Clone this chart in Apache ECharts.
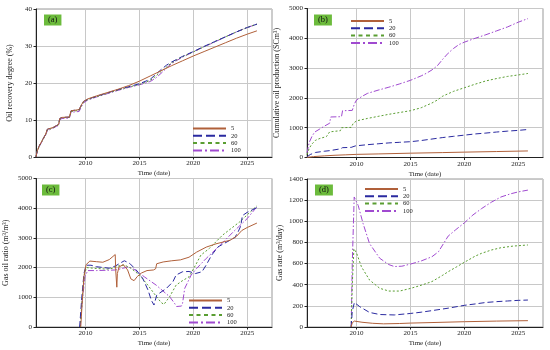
<!DOCTYPE html>
<html><head><meta charset="utf-8">
<script src="https://cdn.jsdelivr.net/npm/echarts@6/dist/echarts.min.js"></script>
<style>html,body{margin:0;padding:0;background:#fff}#c{width:550px;height:350px}</style>
</head><body><div id="c"></div>
<script>
const seriesNames = ['5', '20', '60', '100'];
const xTickYears = [2010, 2015, 2020, 2025];
const panelLabels = ['(a)', '(b)', '(c)', '(d)'];
const yNames = ['Oil recovery degree (%)', 'Cumulative oil production (SCm\u00B3)', 'Gas oil ratio (m\u00B3/m\u00B3)', 'Gas rate (m\u00B3/day)'];
const xName = 'Time (date)';

// (a) Oil recovery degree (%)
const recov5 = [[2005.4,0],[2005.5,1.5],[2005.7,3],[2006.0,4.6],[2006.3,6.2],[2006.45,7.5],[2006.6,7.8],[2007.0,8.0],[2007.3,8.5],[2007.5,8.8],[2007.6,10.4],[2007.8,10.7],[2008.5,10.8],[2008.65,12.5],[2009.4,12.8],[2009.6,14.0],[2009.8,15.0],[2010.2,15.7],[2011,16.5],[2012,17.4],[2013,18.3],[2014,19.3],[2015,20.5],[2016,21.9],[2017,23.3],[2018,24.7],[2019,26.0],[2020,27.3],[2021,28.5],[2022,29.7],[2023,30.9],[2024,32.1],[2025,33.2],[2025.9,34.1]];
const recov20 = [[2005.4,0],[2005.5,1.5],[2005.7,3],[2006.0,4.6],[2006.3,6.2],[2006.45,7.5],[2006.6,7.8],[2007.0,8.0],[2007.3,8.5],[2007.5,8.8],[2007.6,10.4],[2007.8,10.7],[2008.5,10.8],[2008.65,12.5],[2009.4,12.8],[2009.6,14.0],[2009.8,15.0],[2010.2,15.6],[2011,16.4],[2012,17.3],[2013,18.2],[2014,19.0],[2015,19.8],[2016,21.0],[2016.5,22.3],[2017,23.6],[2017.5,24.8],[2018,25.7],[2019,27.2],[2020,28.5],[2021,29.9],[2022,31.2],[2023,32.5],[2024,33.8],[2025,35.0],[2025.9,35.9]];
const recov60 = [[2005.4,0],[2005.5,1.4],[2005.7,2.9],[2006.0,4.5],[2006.3,6.1],[2006.45,7.3],[2006.6,7.7],[2007.0,7.9],[2007.3,8.4],[2007.5,8.7],[2007.6,10.2],[2007.8,10.6],[2008.5,10.7],[2008.65,12.3],[2009.4,12.6],[2009.6,13.8],[2009.8,14.8],[2010.2,15.5],[2011,16.3],[2012,17.2],[2013,18.1],[2014,18.9],[2015,19.6],[2016,20.7],[2016.5,21.8],[2017,23.1],[2017.5,24.3],[2018,25.5],[2019,27.1],[2020,28.4],[2021,29.8],[2022,31.2],[2023,32.5],[2024,33.8],[2025,35.0],[2025.9,35.9]];
const recov100 = [[2005.4,0],[2005.5,1.3],[2005.7,2.8],[2006.0,4.4],[2006.3,6.0],[2006.45,7.1],[2006.6,7.5],[2007.0,7.8],[2007.3,8.3],[2007.5,8.5],[2007.6,10.0],[2007.8,10.4],[2008.5,10.5],[2008.65,12.1],[2009.4,12.3],[2009.6,13.5],[2009.8,14.6],[2010.2,15.4],[2011,16.2],[2012,17.1],[2013,18.0],[2014,18.8],[2015,19.5],[2016,20.4],[2016.5,21.3],[2017,22.6],[2017.5,24.0],[2018,25.3],[2019,27.0],[2020,28.4],[2021,29.8],[2022,31.1],[2023,32.5],[2024,33.8],[2025,35.0],[2025.9,35.9]];

// (b) Cumulative oil production (SCm3)
const cum5 = [[2005.4,5],[2006,30],[2007,55],[2008,75],[2009,90],[2010,105],[2012,120],[2015,145],[2018,165],[2020,180],[2023,200],[2025.9,220]];
const cum20 = [[2005.4,20],[2005.7,100],[2006.2,170],[2007,210],[2007.5,230],[2007.6,270],[2008.5,290],[2008.7,330],[2009.5,340],[2009.9,390],[2011,430],[2012,460],[2013,490],[2014,510],[2015,530],[2016,570],[2017,620],[2018,670],[2019,710],[2020,750],[2021,790],[2022,820],[2023,855],[2024,885],[2025,910],[2025.9,940]];
const cum60 = [[2005.4,100],[2005.6,300],[2005.85,450],[2006.2,580],[2006.6,640],[2007.2,700],[2007.5,860],[2008.0,880],[2008.5,900],[2008.6,1000],[2009.5,1010],[2009.7,1150],[2010,1230],[2011,1310],[2012,1380],[2013,1450],[2014,1510],[2015,1570],[2016,1670],[2016.5,1750],[2017,1830],[2017.5,1930],[2018,2060],[2019,2220],[2020,2340],[2021,2460],[2022,2570],[2023,2650],[2024,2720],[2025,2770],[2025.9,2820]];
const cum100 = [[2005.4,150],[2005.6,500],[2005.85,700],[2006.1,850],[2006.6,960],[2007.0,1050],[2007.5,1150],[2007.6,1360],[2008.6,1370],[2008.7,1570],[2009.6,1580],[2009.8,1800],[2010.0,1930],[2010.5,2050],[2011,2150],[2012,2260],[2013,2360],[2014,2470],[2015,2590],[2016,2740],[2016.5,2830],[2017,2940],[2017.5,3080],[2018,3300],[2018.5,3500],[2019,3660],[2019.5,3790],[2020,3870],[2021,4000],[2022,4120],[2023,4250],[2024,4380],[2025,4540],[2025.9,4660]];

// (c) Gas oil ratio (m3/m3)
const gor5 = [[2009.55,0],[2009.7,900],[2009.85,1700],[2010.05,2100],[2010.4,2220],[2011,2200],[2011.6,2180],[2012.2,2270],[2012.75,2440],[2012.8,1900],[2012.9,1340],[2012.95,1800],[2013.1,2020],[2013.5,2100],[2013.9,1920],[2014.2,1620],[2014.5,1560],[2014.8,1700],[2015.2,1820],[2015.7,1900],[2016.3,1920],[2016.5,1960],[2016.6,2130],[2017.2,2190],[2018,2230],[2018.8,2260],[2019.6,2350],[2020.3,2520],[2021.2,2690],[2022.1,2800],[2023.4,2920],[2024.0,3050],[2024.5,3250],[2025,3350],[2025.9,3500]];
const gor20 = [[2009.45,0],[2009.65,1000],[2009.85,1800],[2010.05,2080],[2010.5,2080],[2011,2030],[2012.2,1980],[2012.8,2060],[2013.2,2150],[2013.6,2230],[2014.1,2140],[2014.7,1920],[2015.3,1640],[2015.8,1240],[2016.1,900],[2016.35,740],[2016.6,1070],[2016.9,1150],[2017.5,1300],[2018.1,1520],[2018.4,1750],[2019.0,1860],[2019.6,1870],[2020.2,1800],[2020.8,1860],[2021.2,2090],[2021.7,2420],[2022.3,2700],[2023.4,2920],[2023.85,3010],[2024.15,3200],[2024.4,3400],[2024.55,3750],[2025,3860],[2025.9,4020]];
const gor60 = [[2009.5,0],[2009.7,1000],[2009.9,1800],[2010.1,2000],[2011,1970],[2012,1950],[2012.6,1980],[2013,2050],[2013.6,2090],[2014.2,1980],[2015,1750],[2015.8,1400],[2016.5,1060],[2017,830],[2017.27,760],[2017.8,1020],[2018.4,1410],[2018.95,1550],[2019.6,1690],[2020.2,2080],[2020.7,2420],[2021.5,2650],[2022.7,3090],[2024.3,3540],[2025.9,4080]];
const gor100 = [[2009.5,0],[2009.7,900],[2009.95,1700],[2010.2,1900],[2011,1900],[2012,1910],[2012.8,1920],[2013.5,1980],[2014,2030],[2014.6,1920],[2015.45,1690],[2016.55,1410],[2017.8,1020],[2018.25,800],[2018.45,690],[2018.9,705],[2019.0,800],[2019.2,1300],[2019.8,1750],[2020.3,1970],[2021.2,2310],[2022.5,2760],[2023.7,3200],[2025,3650],[2025.9,4050]];

// (d) Gas rate (m3/day)
const rate5 = [[2009.5,0],[2009.6,40],[2009.8,56],[2010.5,45],[2011.5,35],[2012.5,30],[2014,33],[2015,37],[2017,42],[2020,50],[2023,56],[2025.9,60]];
const rate20 = [[2009.5,0],[2009.6,150],[2009.8,232],[2010.3,192],[2011.2,138],[2012.15,118],[2013.5,114],[2015,128],[2016,140],[2017,155],[2018.5,178],[2020,205],[2021,218],[2022,232],[2023,240],[2024,246],[2025,252],[2025.9,255]];
const rate60 = [[2009.5,0],[2009.6,400],[2009.75,740],[2010.0,700],[2010.45,570],[2011.2,445],[2012.15,366],[2013,340],[2014,340],[2015,365],[2016,395],[2017,430],[2018,490],[2018.5,523],[2019.3,570],[2020,612],[2021,670],[2021.6,697],[2022.5,728],[2023.4,750],[2024.5,765],[2025.9,776]];
const rate100 = [[2009.5,0],[2009.6,600],[2009.78,1230],[2010.15,1150],[2010.6,980],[2011.2,790],[2012.15,650],[2013.0,590],[2013.5,572],[2014.2,575],[2015,595],[2016,625],[2017,665],[2017.6,712],[2018.5,860],[2019.2,920],[2020,985],[2020.8,1060],[2021.6,1120],[2022.5,1180],[2023.4,1230],[2024.3,1260],[2025,1278],[2025.9,1295]];

const panelData = [
  [recov5, recov20, recov60, recov100],
  [cum5, cum20, cum60, cum100],
  [gor5, gor20, gor60, gor100],
  [rate5, rate20, rate60, rate100]
];
const yMax = [40, 5000, 5000, 1400];
const yInterval = [10, 1000, 1000, 200];

const FONT = 'Liberation Serif';
const colors = ['#b0603a', '#2a2aa0', '#5a9e32', '#a04ad0'];
const dashes = ['solid', [6, 3], [2, 2], [6, 2, 1.5, 2]];
const legendDashes = ['solid', [9, 4], [4, 3.5], [9, 3, 2, 3]];

const grids = [
  {left: 36, top: 9, width: 236, height: 148},
  {left: 307, top: 8.5, width: 236, height: 149},
  {left: 36, top: 178.5, width: 236, height: 148.5},
  {left: 307, top: 179, width: 236, height: 148}
];
const legendPos = [[192, 125], [350, 17.5], [188, 297], [364, 185.5]];
const labelPos = [[44, 14.5], [314, 14.5], [42, 184.5], [315, 184.5]];
const yNameGap = [22, 26, 26, 23];
const plain = v => String(v);

const option = {
  animation: false,
  backgroundColor: '#fff',
  textStyle: {fontFamily: FONT},
  grid: grids.map(g => Object.assign({show: true, borderColor: '#999', borderWidth: 1}, g)),
  title: panelLabels.map((t, i) => ({
    text: t, left: labelPos[i][0], top: labelPos[i][1], padding: [1, 4, 1, 4],
    backgroundColor: '#6cbb3c',
    textStyle: {fontFamily: FONT, fontSize: 8.5, fontWeight: 'normal', color: '#111', lineHeight: 9}
  })),
  legend: legendPos.map(p => ({
    orient: 'vertical', left: p[0], top: p[1], padding: 0,
    itemWidth: 33, itemHeight: 7, itemGap: 0.3, selectedMode: false,
    textStyle: {fontFamily: FONT, fontSize: 6.5, color: '#222', lineHeight: 7},
    data: seriesNames.map((n, k) => ({
      name: n,
      lineStyle: {width: 2, type: legendDashes[k]},
      itemStyle: {opacity: 0, color: 'rgba(0,0,0,0)', borderWidth: 0}
    }))
  })),
  xAxis: grids.map((g, i) => ({
    type: 'value', gridIndex: i, min: 2005.4, max: 2027.3,
    name: xName, nameLocation: 'middle', nameGap: 13,
    nameTextStyle: {fontFamily: FONT, fontSize: 7, color: '#222'},
    axisLine: {show: true, lineStyle: {color: '#222', width: 1}},
    axisTick: {show: true, length: 2.5, customValues: xTickYears, lineStyle: {color: '#222'}},
    axisLabel: {customValues: xTickYears, formatter: plain, fontFamily: FONT, fontSize: 7, color: '#222', margin: 3},
    splitLine: {show: true, lineStyle: {color: '#c8c8c8', width: 1}}
  })),
  yAxis: grids.map((g, i) => ({
    type: 'value', gridIndex: i, min: 0, max: yMax[i], interval: yInterval[i],
    name: yNames[i], nameLocation: 'middle', nameGap: yNameGap[i],
    nameTextStyle: {fontFamily: FONT, fontSize: 8, color: '#222'},
    axisLine: {show: true, lineStyle: {color: '#222', width: 1}},
    axisTick: {show: true, length: 2.5, lineStyle: {color: '#222'}},
    axisLabel: {formatter: plain, fontFamily: FONT, fontSize: 7, color: '#222', margin: 4},
    splitLine: {show: true, lineStyle: {color: '#c8c8c8', width: 1}}
  })),
  series: []
};

panelData.forEach((arrs, i) => {
  arrs.forEach((d, k) => {
    option.series.push({
      type: 'line', name: seriesNames[k], xAxisIndex: i, yAxisIndex: i,
      data: d, symbol: 'none', showSymbol: false,
      lineStyle: {color: colors[k], width: 1, type: dashes[k]},
      itemStyle: {color: colors[k]},
      z: 2 + (3 - k)
    });
  });
});

const chart = echarts.init(document.getElementById('c'), null, {renderer: 'canvas'});
chart.setOption(option);
</script>
</body></html>
